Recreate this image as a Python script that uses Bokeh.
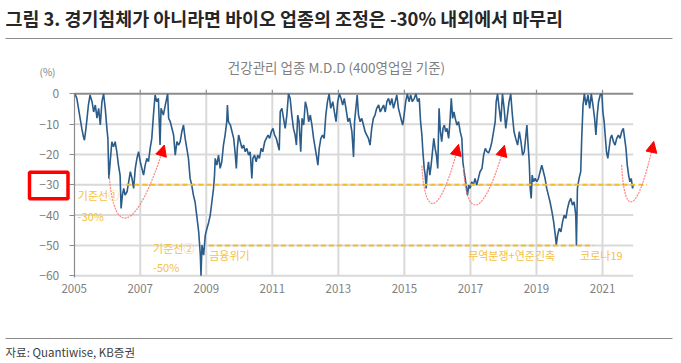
from bokeh.plotting import figure
from bokeh.models import Range1d, FixedTicker, Label, BoxAnnotation, Arrow, NormalHead
from bokeh.embed import file_html
from bokeh.resources import INLINE

FONT = "Noto Sans CJK KR"

title_text = "그림 3. 경기침체가 아니라면 바이오 업종의 조정은 -30% 내외에서 마무리"
subtitle_text = "건강관리 업종 M.D.D (400영업일 기준)"
unit_text = "(%)"
source_text = "자료: Quantiwise, KB증권"

x_ticks = [2005, 2007, 2009, 2011, 2013, 2015, 2017, 2019, 2021]
y_ticks = [0, -10, -20, -30, -40, -50, -60]

mdd_year = [
    2005.00, 2005.04, 2005.08, 2005.13, 2005.18, 2005.23, 2005.28, 2005.31, 2005.35, 2005.39,
    2005.43, 2005.48, 2005.54, 2005.59, 2005.64, 2005.69, 2005.74, 2005.79, 2005.84, 2005.89,
    2005.94, 2005.99, 2006.02, 2006.05, 2006.09, 2006.14, 2006.19, 2006.24, 2006.29, 2006.34,
    2006.39, 2006.42, 2006.46, 2006.50, 2006.54, 2006.60, 2006.65, 2006.70, 2006.75, 2006.80,
    2006.85, 2006.90, 2006.95, 2007.00, 2007.05, 2007.10, 2007.15, 2007.20, 2007.25, 2007.30,
    2007.35, 2007.40, 2007.45, 2007.50, 2007.55, 2007.60, 2007.63, 2007.70, 2007.78, 2007.83,
    2007.86, 2007.91, 2007.96, 2008.01, 2008.06, 2008.11, 2008.16, 2008.21, 2008.26, 2008.31,
    2008.36, 2008.41, 2008.46, 2008.51, 2008.56, 2008.61, 2008.66, 2008.71, 2008.77, 2008.82,
    2008.84, 2008.87, 2008.92, 2008.97, 2009.02, 2009.07, 2009.12, 2009.17, 2009.22, 2009.25,
    2009.27, 2009.32, 2009.37, 2009.42, 2009.47, 2009.52, 2009.57, 2009.62, 2009.64, 2009.67,
    2009.73, 2009.78, 2009.83, 2009.88, 2009.91, 2009.94, 2009.98, 2010.03, 2010.08, 2010.13,
    2010.18, 2010.23, 2010.28, 2010.33, 2010.38, 2010.41, 2010.46, 2010.51, 2010.56, 2010.61,
    2010.66, 2010.71, 2010.77, 2010.82, 2010.87, 2010.92, 2010.97, 2011.02, 2011.07, 2011.12,
    2011.17, 2011.21, 2011.24, 2011.29, 2011.34, 2011.39, 2011.44, 2011.49, 2011.54, 2011.59,
    2011.64, 2011.69, 2011.73, 2011.77, 2011.81, 2011.86, 2011.90, 2011.95, 2012.00, 2012.05,
    2012.10, 2012.15, 2012.20, 2012.25, 2012.30, 2012.35, 2012.38, 2012.42, 2012.47, 2012.52,
    2012.57, 2012.62, 2012.67, 2012.72, 2012.77, 2012.83, 2012.88, 2012.93, 2012.98, 2013.03,
    2013.08, 2013.13, 2013.18, 2013.23, 2013.29, 2013.34, 2013.41, 2013.46, 2013.49, 2013.53,
    2013.57, 2013.61, 2013.66, 2013.71, 2013.76, 2013.81, 2013.86, 2013.91, 2013.96, 2014.01,
    2014.06, 2014.11, 2014.16, 2014.22, 2014.27, 2014.32, 2014.37, 2014.42, 2014.47, 2014.52,
    2014.57, 2014.62, 2014.67, 2014.72, 2014.77, 2014.82, 2014.87, 2014.92, 2014.95, 2014.99,
    2015.04, 2015.09, 2015.14, 2015.19, 2015.24, 2015.30, 2015.35, 2015.40, 2015.45, 2015.49,
    2015.53, 2015.56, 2015.60, 2015.63, 2015.66, 2015.69, 2015.73, 2015.77, 2015.81, 2015.85,
    2015.89, 2015.93, 2015.97, 2016.01, 2016.05, 2016.09, 2016.13, 2016.17, 2016.21, 2016.25,
    2016.29, 2016.34, 2016.38, 2016.42, 2016.46, 2016.50, 2016.54, 2016.59, 2016.64, 2016.69,
    2016.74, 2016.77, 2016.81, 2016.84, 2016.87, 2016.91, 2016.95, 2016.99, 2017.04, 2017.09,
    2017.14, 2017.19, 2017.24, 2017.29, 2017.35, 2017.40, 2017.45, 2017.50, 2017.55, 2017.60,
    2017.65, 2017.70, 2017.75, 2017.78, 2017.82, 2017.87, 2017.92, 2017.97, 2018.02, 2018.07,
    2018.12, 2018.17, 2018.22, 2018.27, 2018.32, 2018.37, 2018.43, 2018.48, 2018.53, 2018.58,
    2018.63, 2018.68, 2018.71, 2018.74, 2018.78, 2018.81, 2018.84, 2018.87, 2018.91, 2018.96,
    2019.01, 2019.06, 2019.11, 2019.16, 2019.21, 2019.26, 2019.31, 2019.36, 2019.41, 2019.47,
    2019.52, 2019.57, 2019.60, 2019.64, 2019.69, 2019.74, 2019.79, 2019.84, 2019.89, 2019.94,
    2019.99, 2020.04, 2020.09, 2020.14, 2020.19, 2020.21, 2020.24, 2020.29, 2020.34, 2020.37,
    2020.41, 2020.45, 2020.50, 2020.56, 2020.61, 2020.66, 2020.71, 2020.76, 2020.80, 2020.84,
    2020.88, 2020.93, 2020.98, 2021.01, 2021.05, 2021.08, 2021.12, 2021.16, 2021.20, 2021.24,
    2021.28, 2021.33, 2021.38, 2021.43, 2021.48, 2021.53, 2021.58, 2021.63, 2021.67, 2021.71,
    2021.75, 2021.79, 2021.83, 2021.87, 2021.91, 2021.93,
]
mdd_value = [
    0.0, -0.5, -1.5, -4.8, -8.1, -11.4, -14.2, -15.3, -12.0, -8.0,
    -3.7, -0.4, -2.6, -6.0, -3.7, -8.0, -4.8, -10.3, -2.6, 0.0,
    -4.8, -11.4, -14.7, -27.9, -22.4, -15.8, -17.5, -15.8, -19.1, -23.5,
    -26.8, -37.8, -33.4, -31.2, -33.4, -32.3, -29.0, -25.7, -27.9, -31.2,
    -24.6, -21.3, -19.1, -22.4, -24.6, -26.8, -23.5, -21.3, -22.4, -18.0,
    -14.7, -7.0, -0.4, -2.6, -1.5, -16.9, -4.8, -7.0, -2.6, 0.0,
    -8.1, -9.2, -11.4, -13.6, -20.2, -15.8, -16.9, -15.8, -12.5, -10.3,
    -14.7, -18.0, -21.3, -27.9, -30.1, -33.4, -35.6, -40.0, -45.5, -53.2,
    -60.0, -49.9, -53.2, -46.6, -44.4, -42.5, -40.0, -35.6, -31.2, -26.8,
    -21.3, -23.5, -20.2, -24.6, -22.4, -16.9, -13.6, -9.2, -3.7, -9.2,
    -10.3, -12.5, -14.7, -20.2, -24.6, -18.0, -13.6, -15.8, -18.0, -16.9,
    -19.1, -18.0, -20.2, -19.1, -27.9, -21.3, -20.2, -22.4, -20.2, -21.3,
    -18.0, -19.1, -15.8, -14.7, -13.6, -14.7, -12.5, -11.4, -13.6, -14.7,
    -16.9, -18.6, -5.9, -4.8, -8.1, -11.4, -7.0, 0.0, -1.5, -7.0,
    -11.4, -13.6, -16.9, -7.0, -9.2, -19.1, -8.1, -10.3, -2.6, -4.8,
    -9.2, -7.0, -10.3, -14.7, -18.0, -21.3, -23.5, -18.0, -14.7, -13.6,
    -14.7, -7.0, -2.6, 0.0, -4.8, -2.6, -6.0, -9.2, -2.6, 0.0,
    -1.5, -3.7, -1.5, -4.8, -9.2, -8.0, -12.5, -20.8, -9.2, -4.8,
    -0.4, -7.0, -9.2, -8.1, -10.3, -12.5, -13.6, -14.7, -16.9, -11.4,
    -8.1, -7.0, -4.8, -3.7, -6.0, -4.8, -3.7, -6.0, -2.6, -1.5,
    -3.7, -1.5, -4.8, -2.6, -0.4, -4.8, -7.0, -9.2, -10.3, -7.0,
    -2.6, 0.0, -2.6, -0.4, -2.6, -1.5, 0.0, -2.6, -1.5, -9.2,
    -13.6, -19.1, -24.6, -26.8, -31.2, -25.7, -22.4, -26.8, -23.5, -19.1,
    -14.7, -18.0, -20.2, -24.6, -4.8, -12.5, -15.8, -11.4, -10.3, -12.5,
    -11.4, -14.7, -9.2, -1.5, -8.1, -6.0, -8.1, -10.3, -9.2, -12.5,
    -14.7, -22.4, -25.7, -27.9, -30.1, -33.4, -30.1, -31.2, -29.0, -30.1,
    -27.9, -30.1, -27.9, -25.7, -24.6, -20.2, -18.0, -19.1, -19.5, -18.0,
    -15.8, -12.5, -9.2, -2.6, 0.0, -4.8, -9.2, 0.0, -4.8, -11.4,
    -7.0, -2.6, 0.0, -7.0, -12.5, -14.7, -16.9, -12.5, -15.8, -20.2,
    -19.1, -13.6, -10.3, -15.8, -22.4, -31.2, -34.5, -26.8, -29.0, -27.9,
    -29.0, -27.9, -25.7, -23.5, -25.7, -27.9, -31.2, -33.4, -35.6, -38.9,
    -42.2, -46.6, -49.9, -46.6, -44.4, -45.5, -42.2, -40.0, -41.1, -37.8,
    -35.6, -34.5, -36.7, -35.6, -40.0, -50.0, -31.2, -27.9, -25.7, -14.7,
    -3.7, 0.0, -3.7, -0.4, -4.8, 0.0, -3.7, -8.1, -13.6, -7.0,
    -2.6, -0.4, 0.0, -5.9, -9.2, -13.6, -19.1, -21.3, -18.0, -14.7,
    -13.6, -15.8, -16.9, -14.7, -13.6, -14.7, -12.5, -11.4, -14.7, -18.0,
    -23.5, -26.8, -29.0, -27.9, -31.2, -30.0,
]

# reference lines (기준선)
ref_level = [-30, -50]
ref_from = [2006.58, 2009.08]
ref_to = [2022.35, 2020.73]

# annotation texts inside the plot
note_text = ["기준선①", "-30%", "기준선②", "-50%", "금융위기", "무역분쟁+연준긴축", "코로나19"]
note_x = [2005.11, 2005.11, 2007.39, 2007.39, 2009.09, 2016.93, 2020.32]
note_y = [-33.3, -40.2, -50.7, -57.0, -53.1, -53.1, -53.1]

# rebound arrows: start, two control points, tip
arr_x0 = [2006.06, 2015.53, 2016.79, 2021.58]
arr_y0 = [-26.8, -23.7, -24.4, -23.5]
arr_cx0 = [2006.20, 2015.62, 2016.89, 2021.66]
arr_cy0 = [-48.0, -42.0, -42.5, -41.5]
arr_cx1 = [2006.90, 2016.09, 2017.41, 2022.07]
arr_cy1 = [-46.0, -40.5, -41.0, -40.0]
arr_x1 = [2007.73, 2016.64, 2018.03, 2022.55]
arr_y1 = [-16.9, -16.7, -17.0, -15.7]

# ---- layout: the frame covers the whole canvas; axes are pinned in place ----
W, H = 681, 363
PXY = 33.02      # pixels per year
PXU = 3.033      # pixels per %-point
AXIS_LEFT_PX = 73.7
ZERO_PX = 93.3
X0 = x_ticks[0] - AXIS_LEFT_PX / PXY
X1 = X0 + W / PXY
Y1 = ZERO_PX / PXU
Y0 = Y1 - H / PXU
data_end = mdd_year[-1]


def dx(px):
    return X0 + px / PXY


def dy(py):
    return Y1 - py / PXU


p = figure(width=W, height=H, x_range=Range1d(X0, X1), y_range=Range1d(Y0, Y1),
           output_backend="svg", toolbar_location=None, title=None,
           min_border=0, min_border_left=0, min_border_right=0, min_border_top=0,
           min_border_bottom=0, background_fill_color="white", border_fill_color="white",
           outline_line_color=None)

GRID = "#d9d9d9"
AX = "#8c8c8c"
LBL = "#808080"

# bottom axis: labels only, pinned at -60
p.xaxis.fixed_location = y_ticks[-1]
p.xaxis.bounds = (x_ticks[0], data_end)
p.xaxis.ticker = FixedTicker(ticks=x_ticks)
p.xaxis.axis_line_color = None
p.xaxis.major_tick_line_color = None
p.xaxis.minor_tick_line_color = None
p.xaxis.major_tick_out = 0
p.xaxis.major_tick_in = 0
p.xaxis.minor_tick_out = 0
p.xaxis.major_label_standoff = 8
p.xaxis.major_label_text_font = FONT
p.xaxis.major_label_text_font_size = "11.5px"
p.xaxis.major_label_text_color = LBL

# left axis pinned at 2005
p.yaxis.fixed_location = x_ticks[0]
p.yaxis.bounds = (-60.6, 0)
p.yaxis.ticker = FixedTicker(ticks=y_ticks)
p.yaxis.axis_line_color = AX
p.yaxis.axis_line_width = 1.2
p.yaxis.major_tick_line_color = AX
p.yaxis.major_tick_out = 5
p.yaxis.major_tick_in = 0
p.yaxis.minor_tick_line_color = None
p.yaxis.minor_tick_out = 0
p.yaxis.major_label_standoff = 10
p.yaxis.major_label_text_font = FONT
p.yaxis.major_label_text_font_size = "12px"
p.yaxis.major_label_text_color = LBL

p.xgrid.visible = False
p.ygrid.visible = False

# grid lines limited to the chart area
vx = x_ticks[1:]
p.segment(x0=vx, y0=[y_ticks[-1]] * len(vx), x1=vx, y1=[0] * len(vx),
          line_color=GRID, line_width=2)
hy = y_ticks[1:]
p.segment(x0=[x_ticks[0]] * len(hy), y0=hy, x1=[data_end] * len(hy), y1=hy,
          line_color=GRID, line_width=2)

# category axis line at 0 with small ticks above it
p.segment(x0=[x_ticks[0]], y0=[0], x1=[data_end], y1=[0], line_color=AX, line_width=2)
p.segment(x0=vx, y0=[0] * len(vx), x1=vx, y1=[4 / PXU] * len(vx), line_color=AX, line_width=1.2)

p.line(mdd_year, mdd_value, line_color="#2b5c8a", line_width=1.6)

p.segment(x0=ref_from, y0=ref_level, x1=ref_to, y1=ref_level,
          line_color="#F5BD2E", line_width=2, line_dash="5 3")

p.bezier(x0=arr_x0, y0=arr_y0, x1=arr_x1, y1=arr_y1, cx0=arr_cx0, cy0=arr_cy0,
         cx1=arr_cx1, cy1=arr_cy1, line_color="#ff6f6f", line_width=1.2,
         line_dash="2 1", line_alpha=0.85)
for i in range(len(arr_x1)):
    p.add_layout(Arrow(end=NormalHead(size=11, fill_color="#ff0000", line_color="#ff0000"),
                       x_start=arr_cx1[i], y_start=arr_cy1[i], x_end=arr_x1[i], y_end=arr_y1[i],
                       line_color=None))

for t, x, y in zip(note_text, note_x, note_y):
    p.add_layout(Label(x=x, y=y, text=t, text_font=FONT, text_font_size="11px",
                       text_color="#F6C143", text_baseline="middle", text_align="left"))

# header, unit, footer, rules and the highlight box
p.add_layout(Label(x=dx(5), y=dy(17), text=title_text, text_font=FONT,
                   text_font_size="18.4px", text_font_style="bold",
                   text_color="#262626", text_baseline="middle"))
p.add_layout(Label(x=dx(336), y=dy(66), text=subtitle_text, text_font=FONT,
                   text_font_size="13.5px", text_color=LBL,
                   text_baseline="middle", text_align="center"))
p.add_layout(Label(x=dx(47), y=dy(71), text=unit_text, text_font=FONT,
                   text_font_size="10px", text_color=LBL,
                   text_baseline="middle", text_align="center"))
p.add_layout(Label(x=dx(5), y=dy(351), text=source_text, text_font=FONT,
                   text_font_size="11.5px", text_color="#404040", text_baseline="middle"))
for py in (38, 338):
    p.segment(x0=[dx(5)], y0=[dy(py)], x1=[dx(672)], y1=[dy(py)],
              line_color="#8c8c8c", line_width=1)
p.add_layout(BoxAnnotation(left=dx(29), right=dx(67.5), top=dy(171.7), bottom=dy(198.3),
                           fill_color=None, line_color="#ff0000", line_width=3.5,
                           line_alpha=1))

open("out.html", "w").write(file_html(p, INLINE))
